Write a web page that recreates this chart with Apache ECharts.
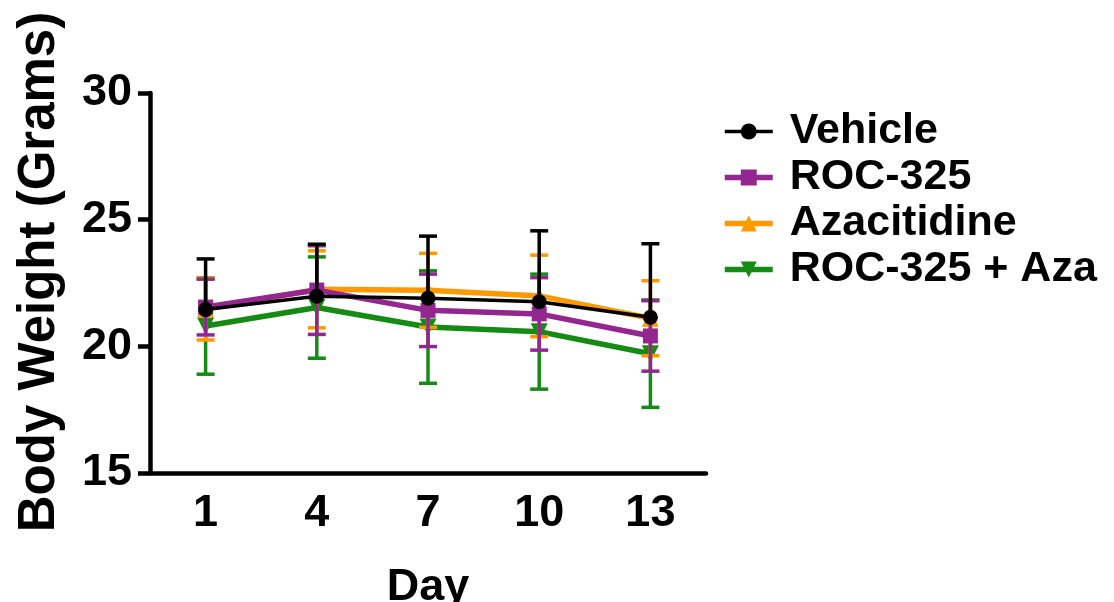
<!DOCTYPE html>
<html>
<head>
<meta charset="utf-8">
<script src="https://cdn.jsdelivr.net/npm/echarts@6/dist/echarts.min.js"></script>
<style>
html,body{margin:0;padding:0;background:#fff;}
#chart{width:1114px;height:602px;}
</style>
</head>
<body>
<div id="chart"></div>
<script>
var days = ['1', '4', '7', '10', '13'];
var seriesNames = ['Vehicle', 'ROC-325', 'Azacitidine', 'ROC-325 + Aza'];
var vehicleMean = [21.45, 21.98, 21.9, 21.76, 21.15];
var vehicleSD = [2.0, 2.05, 2.45, 2.8, 2.9];
var rocMean = [21.55, 22.22, 21.42, 21.28, 20.41];
var rocSD = [1.1, 1.75, 1.43, 1.43, 1.39];
var azaMean = [21.47, 22.25, 22.21, 21.99, 21.11];
var azaSD = [1.22, 1.52, 1.46, 1.61, 1.48];
var comboMean = [20.8, 21.53, 20.76, 20.58, 19.71];
var comboSD = [1.9, 2.0, 2.22, 2.27, 2.12];
var yTicks = [15, 20, 25, 30];

var colors = ['#000000', '#93278f', '#ff9900', '#158a15'];
var lineWidths = [3.5, 5.5, 5.5, 5.5];
var FONT = '"Liberation Sans", Arial, sans-serif';

function errData(mean, sd, upOnly) {
  return mean.map(function (m, i) {
    return [i, upOnly ? m : m - sd[i], m + sd[i]];
  });
}

function errSeries(name, data, color, z, lw, upOnly) {
  return {
    type: 'custom',
    name: name + ' err',
    z: z,
    silent: true,
    encode: { x: 0, y: [1, 2] },
    data: data,
    renderItem: function (params, api) {
      var x = api.value(0);
      var lo = api.coord([x, api.value(1)]);
      var hi = api.coord([x, api.value(2)]);
      var hw = 9;
      var style = { stroke: color, lineWidth: lw };
      var children = [
        { type: 'line', shape: { x1: lo[0], y1: lo[1], x2: hi[0], y2: hi[1] }, style: style },
        { type: 'line', shape: { x1: hi[0] - hw, y1: hi[1], x2: hi[0] + hw, y2: hi[1] }, style: style }
      ];
      if (!upOnly) {
        children.push({ type: 'line', shape: { x1: lo[0] - hw, y1: lo[1], x2: lo[0] + hw, y2: lo[1] }, style: style });
      }
      return { type: 'group', children: children };
    }
  };
}

function lineSeries(name, data, color, z, lw, symbol, size, rotate) {
  return {
    type: 'line',
    name: name,
    data: data,
    z: z,
    symbol: symbol,
    symbolSize: size,
    symbolRotate: rotate || 0,
    showAllSymbol: true,
    lineStyle: { color: color, width: lw },
    itemStyle: { color: color },
    emphasis: { disabled: true }
  };
}

var legendData = seriesNames.map(function (n, i) {
  return { name: n, lineStyle: { width: lineWidths[i] } };
});

var chart = echarts.init(document.getElementById('chart'), null, { renderer: 'canvas' });
chart.setOption({
  animation: false,
  backgroundColor: '#ffffff',
  grid: { left: 150, top: 93, right: 408, bottom: 129, containLabel: false, outerBoundsMode: 'none' },
  legend: {
    orient: 'vertical',
    left: 717,
    top: 105,
    itemWidth: 48,
    itemHeight: 20,
    itemGap: 3,
    data: legendData,
    selectedMode: false,
    textStyle: {
      fontFamily: FONT, fontWeight: 'bold', fontSize: 43, color: '#000',
      padding: [0, 0, 0, 12]
    }
  },
  xAxis: {
    type: 'category',
    data: days,
    boundaryGap: true,
    name: 'Day',
    nameLocation: 'middle',
    nameGap: 92,
    nameTextStyle: { fontFamily: FONT, fontWeight: 'bold', fontSize: 45, color: '#000' },
    axisLine: { lineStyle: { color: '#000', width: 4.5 } },
    axisTick: { alignWithLabel: true, length: 14, lineStyle: { color: '#000', width: 4.5 } },
    axisLabel: { fontFamily: FONT, fontWeight: 'bold', fontSize: 45, color: '#000', margin: 18 },
    splitLine: { show: false }
  },
  yAxis: {
    type: 'value',
    min: 15,
    max: 30,
    interval: 5,
    name: 'Body Weight (Grams)',
    nameLocation: 'middle',
    nameGap: 85,
    nameTextStyle: {
      fontFamily: FONT, fontWeight: 'bold', fontSize: 51, color: '#000',
      padding: [0, 0, 0, 22]
    },
    axisLine: { show: true, lineStyle: { color: '#000', width: 4.5 } },
    axisTick: { show: true, length: 12, lineStyle: { color: '#000', width: 4.5 } },
    axisLabel: {
      fontFamily: FONT, fontWeight: 'bold', fontSize: 45, color: '#000', margin: 18,
      customValues: yTicks
    },
    splitLine: { show: false }
  },
  series: [
    errSeries('ROC-325 + Aza', errData(comboMean, comboSD, false), colors[3], 2, 3.5, false),
    lineSeries('ROC-325 + Aza', comboMean, colors[3], 2, lineWidths[3], 'triangle', 17, 180),
    errSeries('Azacitidine', errData(azaMean, azaSD, false), colors[2], 3, 3.5, false),
    lineSeries('Azacitidine', azaMean, colors[2], 3, lineWidths[2], 'triangle', 17, 0),
    errSeries('ROC-325', errData(rocMean, rocSD, false), colors[1], 4, 3.5, false),
    lineSeries('ROC-325', rocMean, colors[1], 4, lineWidths[1], 'rect', 15, 0),
    errSeries('Vehicle', errData(vehicleMean, vehicleSD, true), colors[0], 5, 3.5, true),
    lineSeries('Vehicle', vehicleMean, colors[0], 5, lineWidths[0], 'circle', 15, 0)
  ]
});
</script>
</body>
</html>
